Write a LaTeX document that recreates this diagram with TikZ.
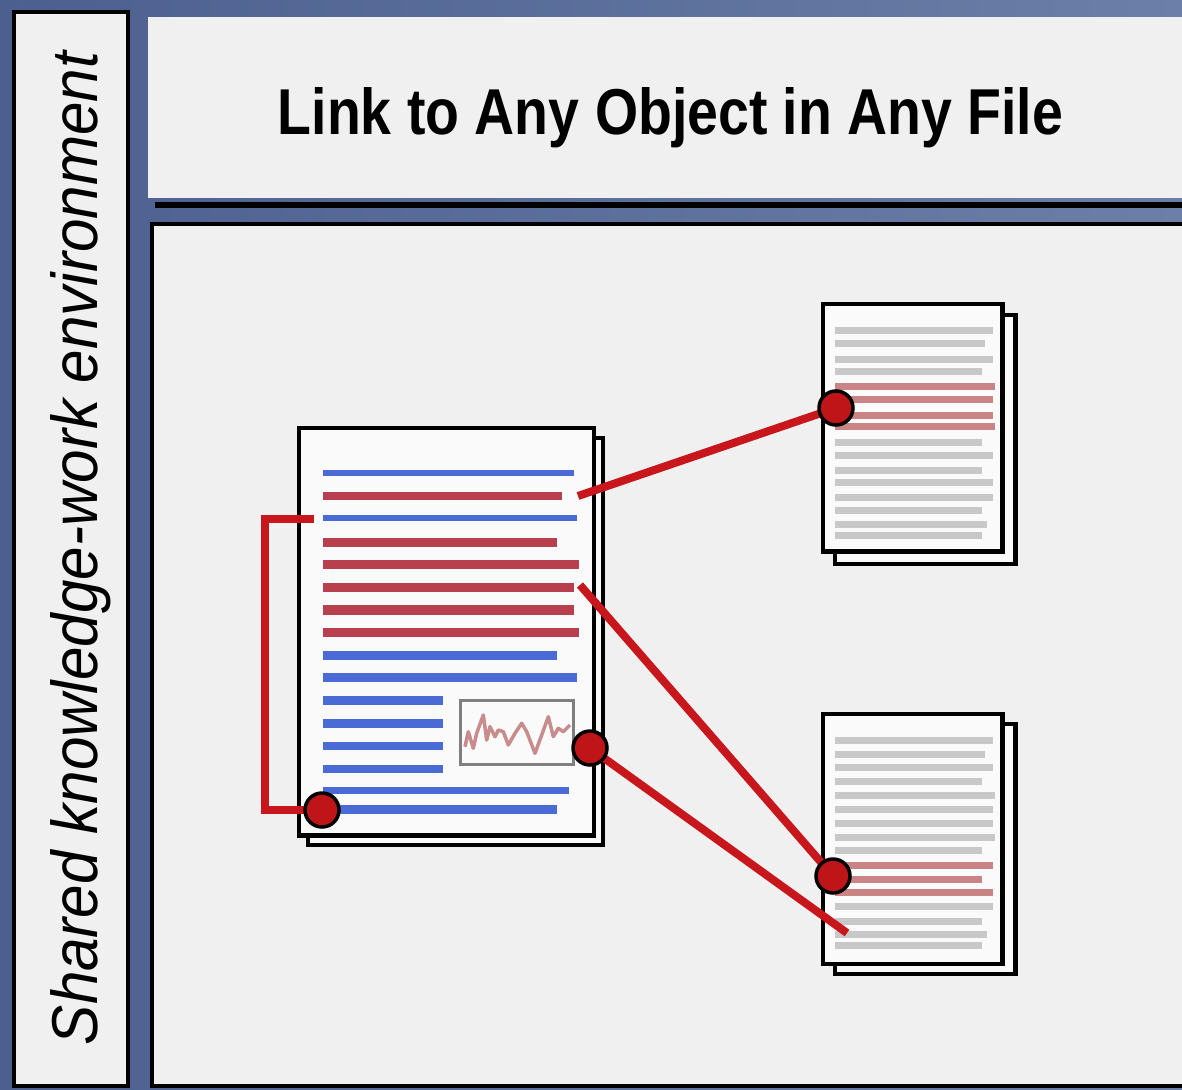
\documentclass[tikz,border=0pt]{standalone}
\usepackage{fontspec}
\setmainfont{Liberation Sans}
\usepackage{graphicx}
\definecolor{bgL}{HTML}{4C5F8F}
\definecolor{bgR}{HTML}{6B7FA8}
\definecolor{panel}{HTML}{F0F0F0}
\definecolor{paper}{HTML}{FAFAFA}
\definecolor{blueline}{HTML}{4A6BD6}
\definecolor{redline}{HTML}{B8404E}
\definecolor{palered}{HTML}{C98585}
\definecolor{grayline}{HTML}{C8C8C8}
\definecolor{linkred}{HTML}{C8161D}
\definecolor{dotred}{HTML}{C01518}
\definecolor{chartline}{HTML}{C98C8C}
\definecolor{chartbox}{HTML}{7F7F7F}
\begin{document}
\begin{tikzpicture}[x=1pt,y=-1pt,
  panelbox/.style={draw=black,fill=panel,line width=4pt},
  pagebox/.style={draw=black,fill=paper,line width=4.5pt,inner sep=0pt,outer sep=0pt},
  txtline/.style={line width=#1},
  linkline/.style={draw=linkred,line width=8pt},
  linkdot/.style={circle,draw=black,fill=dotred,line width=3.5pt,minimum size=34pt,inner sep=0pt},
  chartframe/.style={draw=chartbox,fill=paper,line width=3pt,inner sep=0pt}]
\useasboundingbox (0,0) rectangle (1182,1089);
\clip (0,0) rectangle (1182,1089);
\shade[left color=bgL,right color=bgR] (0,0) rectangle (1182,1089);
% left panel
\draw[panelbox] (14,12) rectangle (127.5,1086);
% title panel
\fill[panel] (148,17) rectangle (1190,198);
\fill[black] (155,202) rectangle (1190,208);
% main panel
\draw[panelbox] (152,224) rectangle (1200,1086);
% texts
\node[anchor=base,inner sep=0pt] (title) at (670.5,135)
  {\resizebox{785pt}{47pt}{\bfseries Link to Any Object in Any File}};
\node[anchor=base,rotate=90,inner sep=0pt] (side) at (97,548.5)
  {\resizebox{993pt}{47pt}{\itshape Shared knowledge-work environment}};
% main document
\node[pagebox,minimum width=295pt,minimum height=407pt] (docAback) at (455.5,641.5) {};
\node[pagebox,minimum width=295pt,minimum height=407.5pt] (docA) at (446.5,631.75) {};
\foreach \y/\xe/\c/\w in {472.7/574/blueline/6, 495.7/562/redline/8, 517.7/577/blueline/6,
  542.3/557/redline/9.5, 564.3/579/redline/9.5, 587.3/574/redline/9.5, 610/574/redline/9.5,
  632.3/579/redline/9.5, 655.7/557/blueline/8.5, 677.7/577/blueline/8.5,
  700.7/443/blueline/8.5, 723.3/443/blueline/8.5, 746/443/blueline/8.5, 769/443/blueline/8.5,
  790.3/569/blueline/6.5, 809.3/557/blueline/8.5}
  \draw[\c,txtline=\w pt] (323,\y) -- (\xe,\y);
\node[chartframe,minimum width=113pt,minimum height=64pt] (chart) at (516.5,732) {};
\draw[chartline,line width=3.5pt,line join=round]
  (465,746.7) -- (468.3,731.7) -- (473.3,748.3) -- (476.7,733.3) -- (483.3,715) -- (486.7,740)
  -- (490,726.7) -- (495,736.7) -- (498.3,730) -- (503.3,731.7) -- (508.3,745) -- (515,733.3)
  -- (521.7,723.3) -- (526.7,731.7) -- (535,753.3) -- (541.7,735) -- (548.3,716.7)
  -- (553.3,736.7) -- (558.3,728.3) -- (563.3,731.7) -- (570,725);
% top right document
\node[pagebox,minimum width=180.5pt,minimum height=249pt] (docBback) at (925.25,439.5) {};
\node[pagebox,minimum width=179.5pt,minimum height=247.5pt] (docB) at (912.75,427.75) {};
\foreach \y/\xe/\c in {330.7/993/grayline, 343.3/985/grayline, 359/993/grayline, 371.7/982/grayline,
  386/995/palered, 399.3/993/palered, 415/993/palered, 426.7/995/palered,
  442.3/982/grayline, 455.7/993/grayline, 470/982/grayline, 482.3/993/grayline,
  497.7/993/grayline, 510.7/982/grayline, 524.3/987/grayline, 535.7/982/grayline}
  \draw[\c,txtline=7pt] (835,\y) -- (\xe,\y);
% bottom right document
\node[pagebox,minimum width=180.5pt,minimum height=250pt] (docCback) at (925.25,849) {};
\node[pagebox,minimum width=179.5pt,minimum height=250pt] (docC) at (912.75,839) {};
\foreach \y/\xe/\c in {740.7/993/grayline, 754/985/grayline, 767.3/993/grayline, 781.7/982/grayline,
  795.7/995/grayline, 809/993/grayline, 823.3/993/grayline, 837.3/995/grayline,
  850.7/982/grayline, 865.7/993/palered, 879/982/palered, 892.7/993/palered,
  906.7/993/grayline, 921.7/982/grayline, 934/987/grayline, 945.7/982/grayline}
  \draw[\c,txtline=7pt] (835,\y) -- (\xe,\y);
% link anchors
\coordinate (la) at (578,496);
\coordinate (lb) at (580,585);
\coordinate (lc) at (847,933);
\coordinate (brTop) at (314,519);
\coordinate (pA) at (322,810);
\coordinate (pChart) at (590,748);
\coordinate (pB) at (836,408);
\coordinate (pC) at (833,876);
% connectors
\draw[linkline] (la) -- (pB);
\draw[linkline] (lb) -- (pC);
\draw[linkline] (pChart) -- (lc);
\draw[linkline,line join=miter] (brTop) -- ++(-49,0) |- (pA);
% dots
\node[linkdot] (dotA) at (pA) {};
\node[linkdot] (dotChart) at (pChart) {};
\node[linkdot] (dotB) at (pB) {};
\node[linkdot] (dotC) at (pC) {};
\end{tikzpicture}
\end{document}
